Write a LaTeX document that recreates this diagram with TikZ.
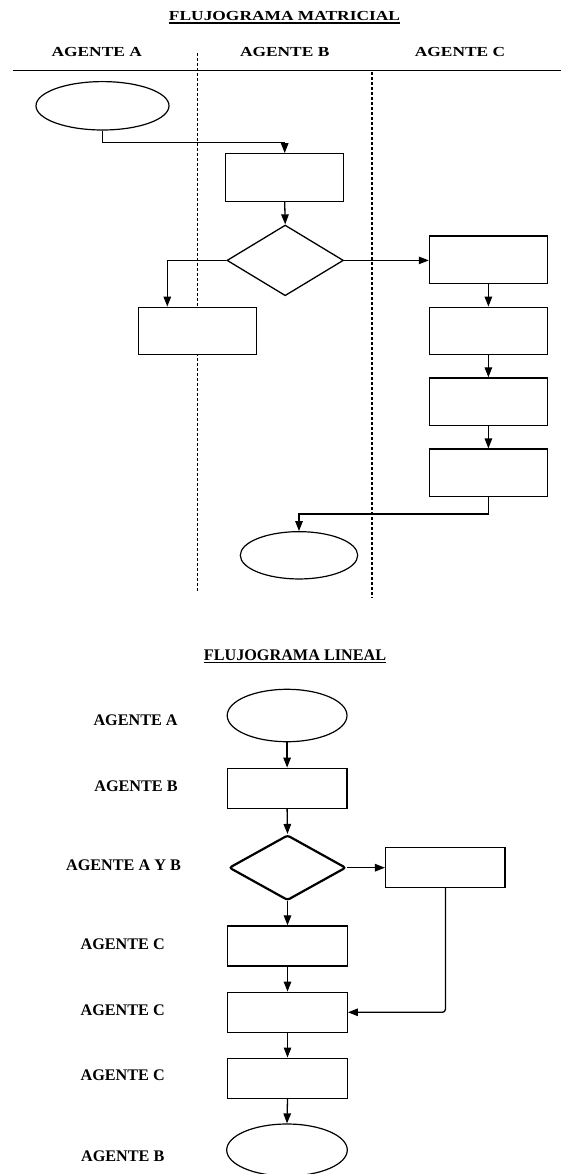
\documentclass[tikz,border=0pt]{standalone}
\usepackage{fontspec}
\usepackage{graphicx}
\setmainfont{Liberation Serif}
\usetikzlibrary{shapes.geometric,arrows.meta}
\begin{document}
\begin{tikzpicture}[x=1pt,y=-1pt,
  box/.style={draw, line width=1.3pt, minimum width=118pt, minimum height=47.5pt, inner sep=0pt},
  lbox/.style={draw, line width=1.4pt, minimum width=119.5pt, minimum height=40pt, inner sep=0pt},
  oval/.style={draw, ellipse, line width=1.2pt, inner sep=0pt},
  arr/.style={-{Triangle[length=10pt,width=7.5pt]}, line width=1.3pt},
  lane/.style={dash pattern=on 3pt off 2pt, line width=1.3pt},
  mlab/.style={font=\fontsize{13.8}{16}\selectfont\bfseries, inner sep=0pt},
  llab/.style={font=\fontsize{16.2}{19}\selectfont\bfseries, inner sep=0pt},
  uline/.style={line width=1.1pt}]
\useasboundingbox (0,0) rectangle (561,1174);
\fill[white] (0,0) rectangle (561,1174);
\clip (0,0) rectangle (561,1174);

% ---------- Flujograma matricial ----------
\node[mlab] (t1) at (284.5,16.5) {\scalebox{1.26}[1]{FLUJOGRAMA  MATRICIAL}};
\draw[uline] ([yshift=-2pt]t1.base west) -- ([yshift=-2pt]t1.base east);

\node[mlab] (la) at (96.7,52) {\scalebox{1.26}[1]{AGENTE A}};
\node[mlab] (lb) at (284.7,52) {\scalebox{1.26}[1]{AGENTE B}};
\node[mlab] (lc) at (460,52) {\scalebox{1.26}[1]{AGENTE C}};

\coordinate (h0) at (12.5,70.7);
\coordinate (h1) at (561,70.7);
\draw[line width=1.5pt] (h0) -- (h1);

\coordinate (v1a) at (197.3,53);
\coordinate (v1b) at (197.3,591.7);
\coordinate (v2a) at (372,72);
\coordinate (v2b) at (372,597.3);
\draw[lane] (v1a) -- (v1b);
\draw[lane] (v2a) -- (v2b);

\node[oval, minimum width=133pt, minimum height=48.4pt] (e1) at (102.5,105.8) {};
\node[box] (b1) at (284.7,177.5) {};
\node[draw, diamond, line width=1.3pt, inner sep=0pt, aspect=1.65,
      minimum width=116.5pt, minimum height=70.7pt] (d1) at (285.2,260.4) {};
\node[box, fill=white] (bl) at (197.3,331) {};
\node[box] (r1) at (488.4,259.7) {};
\node[box] (r2) at (488.4,331) {};
\node[box] (r3) at (488.4,401.7) {};
\node[box] (r4) at (488.4,472.8) {};
\node[oval, minimum width=117.4pt, minimum height=47.3pt] (e2) at (299,555.3) {};

\coordinate (c1) at (284.7,142.3);
\coordinate (c2) at (299,514);
\draw[arr] (e1.south) |- (c1) -- (b1.north);
\draw[arr] (b1.south) -- (d1.north);
\draw[arr] (d1.west) -| ([xshift=-30pt]bl.north);
\draw[arr] (d1.east) -- (d1.east -| r1.west);
\draw[arr] (r1.south) -- (r2.north);
\draw[arr] (r2.south) -- (r3.north);
\draw[arr] (r3.south) -- (r4.north);
\draw[arr] (r4.south) |- (c2) -- (e2.north);

% ---------- Flujograma lineal ----------
\node[llab] (t2) at (295,655.5) {FLUJOGRAMA  LINEAL};
\draw[uline] ([yshift=-2pt]t2.base west) -- ([yshift=-2pt]t2.base east);

\node[llab] (m1) at (135.6,720) {AGENTE A};
\node[llab] (m2) at (136,786) {AGENTE B};
\node[llab] (m3) at (123.5,865.3) {AGENTE A Y B};
\node[llab] (m4) at (122.7,944) {AGENTE C};
\node[llab] (m5) at (122.7,1010) {AGENTE C};
\node[llab] (m6) at (122.7,1075.7) {AGENTE C};
\node[llab] (m7) at (122.7,1156) {AGENTE B};

\node[oval, minimum width=119.8pt, minimum height=52.4pt] (e3) at (287.1,715.5) {};
\node[lbox] (bB) at (287.1,788.3) {};
\node[draw, diamond, line width=2.2pt, rounded corners=2.5pt, inner sep=0pt, aspect=1.79,
      minimum width=117pt, minimum height=65.3pt] (d2) at (287.5,867.7) {};
\node[lbox] (rb) at (445.4,867.3) {};
\node[lbox] (k1) at (287.5,946) {};
\node[lbox] (k2) at (287.5,1012.3) {};
\node[lbox] (k3) at (287.5,1078.2) {};
\node[oval, minimum width=120.6pt, minimum height=52pt] (e4) at (287,1150) {};

\draw[arr] (e3.south) -- (bB.north);
\draw[arr] (bB.south) -- (d2.north);
\draw[arr] (d2.east) -- (d2.east -| rb.west);
\draw[arr] (d2.south) -- (k1.north);
\draw[arr] (k1.south) -- (k2.north);
\draw[arr] (k2.south) -- (k3.north);
\draw[arr] (k3.south) -- (e4.north);
\draw[arr, rounded corners=3pt] (rb.south) |- (k2.east);
\end{tikzpicture}
\end{document}
